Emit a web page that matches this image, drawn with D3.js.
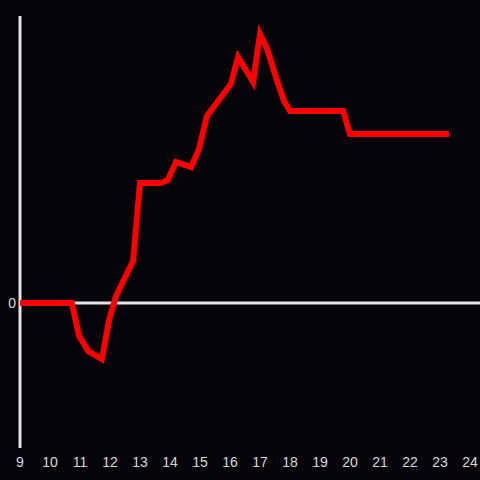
<!DOCTYPE html>
<html>
<head>
<meta charset="utf-8">
<script src="https://cdn.jsdelivr.net/npm/d3@7"></script>
<style>
  html, body { margin: 0; padding: 0; background: #060408; }
  svg { display: block; }
</style>
</head>
<body>
<div id="chart"></div>
<script>
const WIDTH = 480;
const HEIGHT = 480;

// hour of day
const hours = [9, 10.73, 10.97, 11.27, 11.73, 11.97, 12.2, 12.77, 13.0, 13.7, 13.93, 14.2, 14.7, 14.97,
  15.23, 16.03, 16.27, 16.77, 17.0, 17.23, 17.53, 17.8, 18.0, 19.77, 20.0, 23.3];
// change
const values = [0, 0, -0.33, -0.48, -0.56, -0.17, 0.07, 0.42, 1.2, 1.2, 1.23, 1.41, 1.36, 1.54,
  1.87, 2.19, 2.46, 2.21, 2.69, 2.55, 2.26, 2.02, 1.92, 1.92, 1.69, 1.69];
const xTicks = [9, 10, 11, 12, 13, 14, 15, 16, 17, 18, 19, 20, 21, 22, 23, 24];
const yTicks = [0];

const data = hours.map((h, i) => ({ hour: h, value: values[i] }));

const x = d3.scaleLinear().domain([9, 24]).range([20, 470]);
const y = d3.scaleLinear().domain([-1.45, 2.87]).range([448, 16]);

const svg = d3.select('#chart')
  .append('svg')
  .attr('width', WIDTH)
  .attr('height', HEIGHT);

svg.append('rect')
  .attr('width', WIDTH)
  .attr('height', HEIGHT)
  .attr('fill', '#060408');

// x tick labels
svg.append('g')
  .selectAll('text')
  .data(xTicks)
  .enter()
  .append('text')
  .attr('x', (d) => x(d))
  .attr('y', 467)
  .attr('text-anchor', 'middle')
  .attr('fill', '#d8d8d8')
  .attr('font-family', 'Liberation Sans, Arial, sans-serif')
  .attr('font-size', 14)
  .text((d) => d);

// y tick labels
svg.append('g')
  .selectAll('text')
  .data(yTicks)
  .enter()
  .append('text')
  .attr('x', 16)
  .attr('y', (d) => y(d))
  .attr('dy', '0.35em')
  .attr('text-anchor', 'end')
  .attr('fill', '#d8d8d8')
  .attr('font-family', 'Liberation Sans, Arial, sans-serif')
  .attr('font-size', 14)
  .text((d) => d);

// y axis line
svg.append('line')
  .attr('x1', x(9))
  .attr('x2', x(9))
  .attr('y1', y.range()[1])
  .attr('y2', y.range()[0])
  .attr('stroke', '#e4e4e4')
  .attr('stroke-width', 3);

// zero line
svg.append('line')
  .attr('x1', x(9))
  .attr('x2', WIDTH)
  .attr('y1', y(0))
  .attr('y2', y(0))
  .attr('stroke', '#e4e4e4')
  .attr('stroke-width', 3);

svg.append('path')
  .datum(data)
  .attr('fill', 'none')
  .attr('stroke', '#ff0000')
  .attr('stroke-width', 6)
  .attr('stroke-linejoin', 'miter')
  .attr('d', d3.line()
    .x((d) => x(d.hour))
    .y((d) => y(d.value)));
</script>
</body>
</html>
